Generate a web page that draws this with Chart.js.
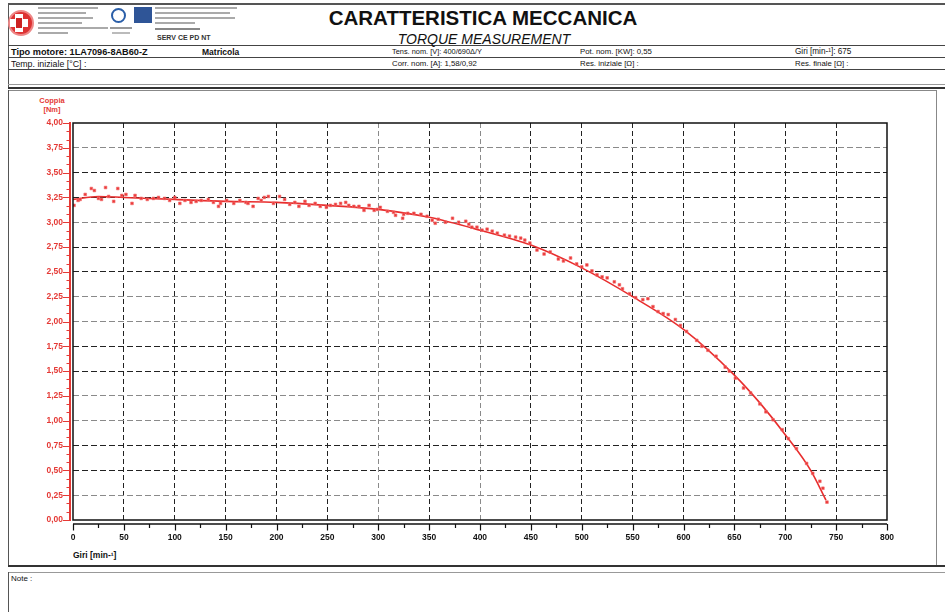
<!DOCTYPE html>
<html>
<head>
<meta charset="utf-8">
<script src="https://cdn.jsdelivr.net/npm/chart.js@4.4.1/dist/chart.umd.min.js"></script>
<style>
  html, body { margin:0; padding:0; background:#fff; }
  #page { position:relative; width:945px; height:612px; overflow:hidden; font-family:"Liberation Sans", Arial, sans-serif; color:#111; }
  .abs { position:absolute; }
  .hl { position:absolute; height:0; }
  .vl { position:absolute; width:0; }
  .t { position:absolute; white-space:nowrap; line-height:1; }
  #c { position:absolute; left:0; top:0; }
</style>
</head>
<body>
<div id="page">
  <!-- header frame lines -->
  <div class="hl" style="left:8px; right:0; top:3px; border-top:2px solid #555;"></div>
  <div class="vl" style="left:8px; top:4px; height:84px; border-left:1.5px solid #555;"></div>
  <div class="hl" style="left:8px; right:0; top:45px; border-top:1.5px solid #444;"></div>
  <div class="hl" style="left:8px; right:0; top:57px; border-top:1.5px solid #444;"></div>
  <div class="hl" style="left:8px; right:0; top:69px; border-top:1.5px solid #444;"></div>
  <div class="hl" style="left:8px; right:0; top:84px; border-top:1px solid #999;"></div>
  <div class="hl" style="left:8px; right:0; top:87px; border-top:2px solid #333;"></div>

  <!-- logos (decorative) -->
  <div class="abs" style="left:8px; top:10px; width:22px; height:22px; border-radius:50%; background:#d33; border:2px solid #e88;"></div>
  <div class="abs" style="left:15px; top:14px; width:8px; height:18px; background:#fff;"></div>
  <div class="abs" style="left:10px; top:19px; width:18px; height:8px; background:#fff;"></div>
  <div class="abs" style="left:16px; top:18px; width:6px; height:10px; background:#c22;"></div>
  <div class="abs" style="left:38px; top:7px; width:60px; height:2px; background:#aaa;"></div>
  <div class="abs" style="left:38px; top:12px; width:48px; height:2px; background:#aaa;"></div>
  <div class="abs" style="left:38px; top:17px; width:55px; height:2px; background:#aaa;"></div>
  <div class="abs" style="left:38px; top:22px; width:44px; height:2px; background:#aaa;"></div>
  <div class="abs" style="left:38px; top:27px; width:70px; height:2px; background:#aaa;"></div>
  <div class="abs" style="left:38px; top:32px; width:30px; height:2px; background:#aaa;"></div>
  <div class="abs" style="left:111px; top:8px; width:11px; height:11px; border-radius:50%; border:2px solid #2a5ea8; background:#fff;"></div>
  <div class="abs" style="left:110px; top:27px; width:22px; height:2px; background:#999;"></div>
  <div class="abs" style="left:112px; top:32px; width:18px; height:2px; background:#bbb;"></div>
  <div class="abs" style="left:134px; top:7px; width:18px; height:16px; background:#2f5597;"></div>
  <div class="abs" style="left:155px; top:7px; width:82px; height:2px; background:#aaa;"></div>
  <div class="abs" style="left:155px; top:12px; width:75px; height:2px; background:#aaa;"></div>
  <div class="abs" style="left:155px; top:17px; width:80px; height:2px; background:#aaa;"></div>
  <div class="abs" style="left:155px; top:22px; width:40px; height:2px; background:#aaa;"></div>
  <div class="abs" style="left:155px; top:28px; width:45px; height:2px; background:#888;"></div>
  <div class="t" style="left:157px; top:34px; font-size:7px; font-weight:bold; color:#333;">SERV CE PD NT</div>

  <!-- titles -->
  <div class="t" style="left:483px; top:8px; transform:translateX(-50%); font-size:20.5px; font-weight:bold; color:#111;">CARATTERISTICA MECCANICA</div>
  <div class="t" style="left:484px; top:31.5px; transform:translateX(-50%); font-size:14px; font-style:italic; color:#111;">TORQUE MEASUREMENT</div>

  <!-- rows -->
  <div class="t" style="left:11px; top:47.5px; font-size:9.2px; font-weight:bold;">Tipo motore: 1LA7096-8AB60-Z</div>
  <div class="t" style="left:202px; top:47.5px; font-size:8.5px; font-weight:bold;">Matricola</div>
  <div class="t" style="left:392px; top:48px; font-size:7.4px;">Tens. nom. [V]: 400/690Δ/Y</div>
  <div class="t" style="left:580px; top:48px; font-size:7.8px;">Pot. nom. [KW]: 0,55</div>
  <div class="t" style="left:795px; top:48px; font-size:8.2px;">Giri [min-¹]: 675</div>
  <div class="t" style="left:11px; top:59.5px; font-size:8.8px;">Temp. iniziale [°C] :</div>
  <div class="t" style="left:392px; top:60px; font-size:7.8px;">Corr. nom. [A]: 1,58/0,92</div>
  <div class="t" style="left:580px; top:60px; font-size:7.8px;">Res. iniziale [Ω] :</div>
  <div class="t" style="left:795px; top:60px; font-size:7.8px;">Res. finale [Ω] :</div>

  <!-- chart box -->
  <div class="hl" style="left:8px; width:929px; top:90px; border-top:1px solid #888;"></div>
  <div class="vl" style="left:8px; top:90px; height:476px; border-left:1.5px solid #555;"></div>
  <div class="vl" style="left:936px; top:90px; height:476px; border-left:1px solid #888;"></div>
  <div class="hl" style="left:8px; right:0; top:565px; border-top:2px solid #333;"></div>
  <div class="hl" style="left:8px; right:0; top:572px; border-top:1px solid #999;"></div>
  <div class="vl" style="left:8px; top:572px; height:40px; border-left:1.5px solid #555;"></div>
  <div class="t" style="left:11px; top:575px; font-size:8px;">Note :</div>

  <!-- axis titles -->
  <div class="t" style="left:52px; top:97px; transform:translateX(-50%); font-size:7.5px; font-weight:bold; color:#e53935;">Coppia</div>
  <div class="t" style="left:52px; top:106px; transform:translateX(-50%); font-size:7.5px; font-weight:bold; color:#e53935;">[Nm]</div>
  <div class="t" style="left:73px; top:551px; font-size:8.5px; font-weight:bold;">Giri [min-¹]</div>

  <canvas id="c" width="945" height="612"></canvas>
</div>
<script>
// ---- data ----
const measuredSpeed = [1,5,7,12,18,21,25,28,32,35,40,44,48,52,58,61,67,73,79,84,90,95,100,105,110,116,121,126,133,138,143,
  145,151,158,164,170,172,177,182,185,188,192,197,203,208,213,218,222,228,232,238,243,249,253,258,263,268,271,276,281,286,291,296,299,
  302,309,315,317,324,325,329,335,342,348,353,356,359,366,373,379,386,389,392,397,402,407,412,417,424,429,435,440,444,449,
  456,463,469,477,482,489,495,500,505,510,515,520,525,532,537,540,547,553,560,565,570,575,580,585,592,
  597,603,613,618,624,632,641,645,651,659,666,675,681,688,697,703,711,721,727,734,737,741];
const measuredTorque = [3.17,3.22,3.23,3.28,3.34,3.32,3.24,3.23,3.35,3.26,3.21,3.34,3.27,3.28,3.19,3.27,3.24,3.23,3.24,3.25,3.24,3.22,3.25,3.19,3.22,3.20,3.21,3.22,3.23,3.20,3.16,
  3.19,3.22,3.19,3.22,3.20,3.19,3.16,3.24,3.22,3.25,3.26,3.19,3.26,3.23,3.18,3.20,3.16,3.21,3.17,3.19,3.16,3.15,3.17,3.18,3.19,3.20,3.17,3.16,3.16,3.12,3.17,3.12,3.13,
  3.15,3.11,3.10,3.07,3.04,3.08,3.09,3.09,3.08,3.06,3.02,2.99,3.03,3.00,3.04,3.00,3.01,2.98,2.95,2.95,2.92,2.93,2.91,2.89,2.87,2.86,2.85,2.84,2.82,2.79,
  2.72,2.68,2.70,2.63,2.61,2.64,2.58,2.55,2.57,2.51,2.47,2.45,2.44,2.40,2.37,2.33,2.28,2.24,2.22,2.23,2.15,2.10,2.08,2.07,2.02,
  1.96,1.90,1.81,1.75,1.71,1.65,1.54,1.50,1.43,1.33,1.28,1.17,1.09,1.01,0.91,0.82,0.72,0.57,0.47,0.39,0.32,0.18];
const fitSpeed  = [0,25,50,100,150,200,250,300,350,400,450,500,550,600,650,675,700,725,740];
const fitTorque = [3.23,3.26,3.25,3.23,3.21,3.20,3.17,3.13,3.05,2.92,2.77,2.54,2.25,1.92,1.46,1.18,0.86,0.50,0.20];
const yTickLabels = ['0,00','0,25','0,50','0,75','1,00','1,25','1,50','1,75','2,00','2,25','2,50','2,75','3,00','3,25','3,50','3,75','4,00'];
const xTickLabels = ['0','50','100','150','200','250','300','350','400','450','500','550','600','650','700','750','800'];
const grayYLines = [3.75, 3.0, 2.25, 2.0, 1.25, 1.0, 0.25];
const grayXLines = [300, 400];

const RED = '#e53935';
const near = (a, b) => Math.abs(a - b) < 1e-6;

const axesPlugin = {
  id: 'axesPlugin',
  afterDraw(chart) {
    const {ctx, chartArea: a, scales: {x, y}} = chart;
    ctx.save();
    // plot frame
    ctx.strokeStyle = '#111';
    ctx.lineWidth = 1.5;
    ctx.strokeRect(a.left, a.top, a.right - a.left, a.bottom - a.top);
    // red Y axis with ticks
    const ax = a.left - 3;
    ctx.strokeStyle = RED;
    ctx.lineWidth = 2;
    ctx.beginPath();
    ctx.moveTo(ax, y.getPixelForValue(4) - 1);
    ctx.lineTo(ax, y.getPixelForValue(0) + 1);
    ctx.stroke();
    ctx.lineWidth = 1.2;
    ctx.beginPath();
    for (let i = 0; i <= 48; i++) {
      const v = i * 0.25 / 3;
      const py = Math.round(y.getPixelForValue(v)) + 0.5;
      const len = (i % 3 === 0) ? 7 : 3.5;
      ctx.moveTo(ax - len, py);
      ctx.lineTo(ax, py);
    }
    ctx.stroke();
    // black X axis with ticks
    const ay = a.bottom + 4;
    ctx.strokeStyle = '#111';
    ctx.lineWidth = 1.5;
    ctx.beginPath();
    ctx.moveTo(a.left, ay);
    ctx.lineTo(a.right, ay);
    ctx.stroke();
    ctx.lineWidth = 1.2;
    ctx.beginPath();
    for (let v = 0; v <= 800; v += 25) {
      const px = Math.round(x.getPixelForValue(v)) + 0.5;
      const len = (v % 50 === 0) ? 6.5 : 4;
      ctx.moveTo(px, ay);
      ctx.lineTo(px, ay + len);
    }
    ctx.stroke();
    ctx.restore();
  }
};

new Chart(document.getElementById('c'), {
  data: {
    datasets: [
      {
        type: 'line',
        label: 'Curva',
        data: fitSpeed.map((s, i) => ({x: s, y: fitTorque[i]})),
        borderColor: 'rgb(232,45,45)',
        borderWidth: 1.6,
        pointRadius: 0,
        cubicInterpolationMode: 'monotone',
        fill: false,
        order: 1
      },
      {
        type: 'scatter',
        label: 'Misure',
        data: measuredSpeed.map((s, i) => ({x: s, y: measuredTorque[i]})),
        pointStyle: 'rect',
        pointRadius: 1.9,
        backgroundColor: 'rgb(235,55,55)',
        borderColor: 'rgba(242,110,110,0.9)',
        borderWidth: 0.7,
        order: 0
      }
    ]
  },
  options: {
    responsive: false,
    maintainAspectRatio: false,
    devicePixelRatio: 1,
    animation: false,
    layout: { padding: { left: 0, top: 123, right: 58, bottom: 0 } },
    plugins: { legend: { display: false }, tooltip: { enabled: false }, title: { display: false } },
    scales: {
      x: {
        type: 'linear',
        min: 0, max: 800,
        afterFit(s) { s.height = 92; },
        afterBuildTicks(s) { s.ticks = xTickLabels.map(t => ({value: Number(t)})); },
        ticks: {
          stepSize: 50,
          padding: 12.5,
          color: '#111',
          font: { family: 'Liberation Sans', size: 8.5, weight: 'bold' },
          maxRotation: 0,
          autoSkip: false,
          callback: (v, i) => xTickLabels[i]
        },
        grid: {
          drawTicks: false,
          lineWidth: 1,
          color: c => {
            const v = c.tick ? c.tick.value : null;
            if (v === null || v === 0 || v === 800) return 'rgba(0,0,0,0)';
            return grayXLines.includes(v) ? '#8a8a8a' : '#222';
          }
        },
        border: { display: false, dash: [5, 3] }
      },
      y: {
        type: 'linear',
        min: 0, max: 4,
        afterFit(s) { s.width = 73; },
        afterBuildTicks(s) { s.ticks = yTickLabels.map(t => ({value: Number(t.replace(',', '.'))})); },
        ticks: {
          stepSize: 0.25,
          padding: 10,
          color: RED,
          font: { family: 'Liberation Sans', size: 8.5, weight: 'bold' },
          autoSkip: false,
          callback: (v, i) => yTickLabels[i]
        },
        grid: {
          drawTicks: false,
          lineWidth: 1,
          color: c => {
            const v = c.tick ? c.tick.value : null;
            if (v === null || near(v, 0) || near(v, 4)) return 'rgba(0,0,0,0)';
            return grayYLines.some(g => near(g, v)) ? '#8a8a8a' : '#222';
          }
        },
        border: { display: false, dash: [6, 3] }
      }
    }
  },
  plugins: [axesPlugin]
});
</script>
</body>
</html>
